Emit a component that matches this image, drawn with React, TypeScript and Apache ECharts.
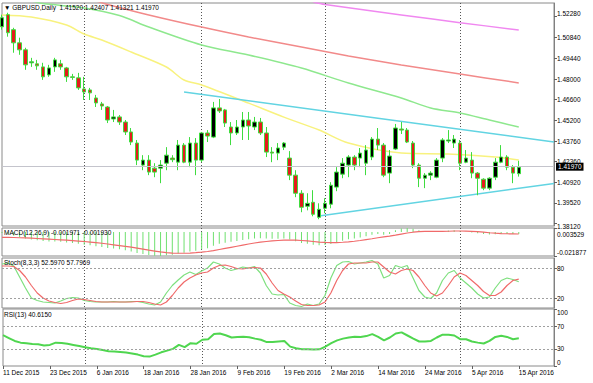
import React, { useEffect, useRef } from 'react';
import * as echarts from 'echarts';

// ---------- data ----------
const dates = [
  '11 Dec 2015','14 Dec 2015','15 Dec 2015','16 Dec 2015','17 Dec 2015','18 Dec 2015','21 Dec 2015','22 Dec 2015','23 Dec 2015','24 Dec 2015',
  '28 Dec 2015','29 Dec 2015','30 Dec 2015','31 Dec 2015',
  '4 Jan 2016','5 Jan 2016','6 Jan 2016','7 Jan 2016','8 Jan 2016','11 Jan 2016','12 Jan 2016','13 Jan 2016','14 Jan 2016','15 Jan 2016',
  '18 Jan 2016','19 Jan 2016','20 Jan 2016','21 Jan 2016','22 Jan 2016','25 Jan 2016','26 Jan 2016','27 Jan 2016','28 Jan 2016','29 Jan 2016',
  '1 Feb 2016','2 Feb 2016','3 Feb 2016','4 Feb 2016','5 Feb 2016','8 Feb 2016','9 Feb 2016','10 Feb 2016','11 Feb 2016','12 Feb 2016',
  '15 Feb 2016','16 Feb 2016','17 Feb 2016','18 Feb 2016','19 Feb 2016','22 Feb 2016','23 Feb 2016','24 Feb 2016','25 Feb 2016','26 Feb 2016','29 Feb 2016',
  '1 Mar 2016','2 Mar 2016','3 Mar 2016','4 Mar 2016','7 Mar 2016','8 Mar 2016','9 Mar 2016','10 Mar 2016','11 Mar 2016','14 Mar 2016',
  '15 Mar 2016','16 Mar 2016','17 Mar 2016','18 Mar 2016','21 Mar 2016','22 Mar 2016','23 Mar 2016','24 Mar 2016','25 Mar 2016',
  '28 Mar 2016','29 Mar 2016','30 Mar 2016','31 Mar 2016',
  '1 Apr 2016','4 Apr 2016','5 Apr 2016','6 Apr 2016','7 Apr 2016','8 Apr 2016','11 Apr 2016','12 Apr 2016','13 Apr 2016','14 Apr 2016','15 Apr 2016',
];
const emptySlots = 6;

const open = [1.5159,1.5242,1.5139,1.5049,1.5001,1.4912,1.4905,1.4884,1.4829,1.4884,
  1.4905,1.4877,1.4816,1.4809,1.4733,1.4726,1.4671,1.4630,1.4609,1.4527,
  1.4541,1.4506,1.4438,1.4362,1.4211,1.4245,1.4190,1.4190,1.4224,1.4259,
  1.4231,1.4348,1.4231,1.4362,1.4245,1.4431,1.4403,1.4603,1.4589,1.4472,
  1.4431,1.4472,1.4520,1.4472,1.4506,1.4431,1.4300,1.4293,1.4334,1.4259,
  1.4142,1.4018,1.3929,1.3956,1.3853,1.3915,1.3943,1.4060,1.4149,1.4211,
  1.4266,1.4259,1.4224,1.4266,1.4389,1.4348,1.4156,1.4321,1.4458,1.4451,
  1.4362,1.4211,1.4121,1.4142,1.4128,1.4259,1.4376,1.4362,1.4362,1.4231,
  1.4245,1.4156,1.4114,1.4053,1.4128,1.4231,1.4266,1.4197,1.41520];
const close = [1.5221,1.5118,1.5049,1.5001,1.4898,1.4919,1.4891,1.4816,1.4877,1.4932,
  1.4884,1.4816,1.4812,1.4740,1.4712,1.4706,1.4637,1.4616,1.4520,1.4541,
  1.4506,1.4438,1.4369,1.4245,1.4245,1.4163,1.4163,1.4211,1.4279,1.4248,
  1.4348,1.4231,1.4362,1.4245,1.4431,1.4410,1.4603,1.4582,1.4499,1.4431,
  1.4472,1.4520,1.4479,1.4506,1.4431,1.4300,1.4293,1.4328,1.4362,1.4142,
  1.4018,1.3922,1.3949,1.3874,1.3908,1.3949,1.4073,1.4163,1.4224,1.4266,
  1.4211,1.4293,1.4314,1.4389,1.4348,1.4142,1.4273,1.4465,1.4451,1.4369,
  1.4211,1.4121,1.4142,1.4156,1.4245,1.4383,1.4383,1.4389,1.4224,1.4259,
  1.4156,1.4121,1.4053,1.4121,1.4231,1.4266,1.4197,1.4156,1.41970];
const low = [1.5139,1.5091,1.4981,1.4967,1.4864,1.4884,1.4864,1.4795,1.4816,1.4850,
  1.4864,1.4781,1.4795,1.4726,1.4657,1.4657,1.4609,1.4589,1.4499,1.4506,
  1.4486,1.4417,1.4348,1.4211,1.4176,1.4142,1.4128,1.4087,1.4176,1.4231,
  1.4176,1.4224,1.4197,1.4142,1.4231,1.4369,1.4396,1.4568,1.4472,1.4348,
  1.4417,1.4383,1.4383,1.4451,1.4417,1.4266,1.4231,1.4245,1.4314,1.4108,
  1.3991,1.3888,1.3901,1.3860,1.3840,1.3881,1.3915,1.4032,1.4121,1.4128,
  1.4176,1.4197,1.4142,1.4245,1.4314,1.4128,1.4087,1.4314,1.4424,1.4362,
  1.4190,1.4060,1.4053,1.4108,1.4121,1.4231,1.4362,1.4328,1.4176,1.4224,
  1.4121,1.4004,1.4039,1.4039,1.4108,1.4224,1.4176,1.4087,1.41321];
const high = [1.5242,1.5255,1.5152,1.5084,1.5015,1.4946,1.4932,1.4912,1.4898,1.4946,
  1.4932,1.4884,1.4836,1.4843,1.4816,1.4740,1.4692,1.4644,1.4616,1.4589,
  1.4554,1.4520,1.4465,1.4383,1.4279,1.4279,1.4224,1.4245,1.4334,1.4279,
  1.4383,1.4362,1.4403,1.4396,1.4438,1.4451,1.4644,1.4664,1.4596,1.4506,
  1.4520,1.4575,1.4575,1.4541,1.4534,1.4472,1.4334,1.4362,1.4369,1.4307,
  1.4176,1.4039,1.4018,1.4039,1.3949,1.3984,1.4094,1.4197,1.4259,1.4279,
  1.4279,1.4328,1.4348,1.4403,1.4465,1.4362,1.4314,1.4493,1.4506,1.4465,
  1.4376,1.4224,1.4156,1.4169,1.4259,1.4396,1.4451,1.4417,1.4383,1.4314,
  1.4300,1.4163,1.4121,1.4128,1.4259,1.4348,1.4279,1.4211,1.42407];

// moving averages: [bar index, price]
const maYellow = [[0,1.5240],[5,1.5226],[11,1.5171],[14,1.5109],[17,1.5068],[22,1.4986],[28,1.4883],[31,1.4794],[34,1.4760],[42,1.4636],[48,1.4540],[54,1.4451],[59,1.4362],[68,1.4294],[76,1.4287],[84,1.4266],[88,1.4246]];
const maGreen = [[5,1.5336],[7,1.5318],[14,1.5288],[20,1.5236],[25,1.5157],[34,1.5034],[42,1.4965],[51,1.4876],[59,1.4773],[68,1.4671],[73,1.4602],[78,1.4568],[83,1.4520],[88,1.4472]];
const maRed = [[16,1.5336],[18,1.5312],[25,1.5240],[34,1.5157],[42,1.5089],[51,1.5020],[59,1.4959],[68,1.4897],[78,1.4835],[88,1.4774]];
const maMagenta = [[53,1.5329],[55,1.5312],[68,1.5240],[78,1.5187],[88,1.5137]];

const upperTrend = [[31,1.4712],[64,1.4532],[94,1.4369]];
const lowerTrend = [[54,1.3862],[94,1.4085]];
const bidPrice = 1.4197;

const priceTicks = [1.5228,1.5084,1.4944,1.4800,1.4660,1.4520,1.4376,1.4236,1.4092,1.3952,1.3812];

const macdMain = [-0.0010,-0.0020,-0.0035,-0.0048,-0.0060,-0.0068,-0.0075,-0.0082,-0.0087,-0.0088,
  -0.0090,-0.0096,-0.0101,-0.0108,-0.0116,-0.0122,-0.0130,-0.0137,-0.0146,-0.0151,
  -0.0158,-0.0167,-0.0177,-0.0192,-0.0200,-0.0210,-0.0217,-0.0219,-0.0212,-0.0207,
  -0.0195,-0.0190,-0.0178,-0.0172,-0.0158,-0.0148,-0.0125,-0.0108,-0.0098,-0.0090,
  -0.0082,-0.0074,-0.0066,-0.0060,-0.0057,-0.0060,-0.0063,-0.0063,-0.0061,-0.0070,
  -0.0085,-0.0100,-0.0108,-0.0117,-0.0121,-0.0120,-0.0110,-0.0095,-0.0080,-0.0067,
  -0.0060,-0.0050,-0.0040,-0.0027,-0.0020,-0.0025,-0.0020,0.0015,0.0030,0.0035,
  0.0028,0.0015,0.0005,-0.0002,0.0000,0.0008,0.0012,0.0014,0.0006,0.0002,
  -0.0005,-0.0012,-0.0020,-0.0024,-0.0022,-0.0019,-0.0019,-0.0020,-0.001971];
const macdSignal = [-0.0049,-0.0050,-0.0051,-0.0053,-0.0055,-0.0057,-0.0060,-0.0063,-0.0066,-0.0069,
  -0.0072,-0.0075,-0.0079,-0.0083,-0.0087,-0.0092,-0.0097,-0.0103,-0.0110,-0.0117,
  -0.0124,-0.0131,-0.0139,-0.0148,-0.0157,-0.0166,-0.0174,-0.0182,-0.0188,-0.0192,
  -0.0194,-0.0194,-0.0192,-0.0189,-0.0184,-0.0178,-0.0170,-0.0160,-0.0150,-0.0140,
  -0.0130,-0.0120,-0.0110,-0.0101,-0.0093,-0.0087,-0.0082,-0.0078,-0.0075,-0.0074,
  -0.0075,-0.0078,-0.0082,-0.0087,-0.0092,-0.0096,-0.0098,-0.0097,-0.0094,-0.0090,
  -0.0085,-0.0078,-0.0070,-0.0062,-0.0053,-0.0046,-0.0039,-0.0030,-0.0020,-0.0010,
  -0.0003,0.0002,0.0004,0.0004,0.0004,0.0005,0.0006,0.0008,0.0008,0.0007,
  0.0005,0.0002,-0.0003,-0.0008,-0.0012,-0.0015,-0.0017,-0.0018,-0.001930];

const stochK = [88,90,84,62,40,20,15,12,11,10, 14,19,21,20,15,13,12,12,12,13,
  12,12,13,13,11,8,6,12,30,45, 56,66,72,67,74,80,92,88,80,75,
  78,82,80,83,70,45,28,26,27,10, 5,3,8,5,8,25,60,85,92,93,
  88,90,92,95,88,60,65,85,81,85, 60,35,22,19,30,55,70,75,60,50,
  40,28,20,22,40,55,60,57,52.597];
const stochD = [84,84,83,75,62,45,30,20,14,11, 9,11,15,18,17,15,13,12,12,12,
  12,12,12,13,13,11,8,6,12,25, 40,52,60,66,70,72,80,85,86,83,
  79,78,80,81,80,68,50,35,28,22, 14,7,5,5,6,12,30,55,75,88,
  90,90,90,92,92,82,72,68,75,78, 75,62,45,30,24,30,45,62,70,65,
  55,45,33,25,25,32,45,55,57.797];

const rsi = [54,49,44,41,40,38.5,38,36,37,41, 40.5,39,37,35,33,31,30,28,26,25.5,
  24.5,23.5,22,20,17,16.5,20,24,27,30, 37,33,40,39,46,47,56,57,54,50,
  51,51.5,50.5,48,46,42,42,43,44,34, 31,29.3,29.5,29,29.3,34,40,45,48,50,
  51.5,51,52.5,56,51,45,50,57,59,53.5, 48,43,43,44,50,55,55,53.5,47,47,
  43,41,39.5,44,51,53,51,47,48.6];

const stochLevels = [20, 80];
const rsiLevels = [30, 70];

// ---------- helpers ----------
const FONT = 'Liberation Sans';
const categories = [...dates, ...Array(emptySlots).fill('')];
const monthStarts = dates
  .map((d, i) => (i > 0 && d.split(' ')[1] !== dates[i - 1].split(' ')[1] ? i : -1))
  .filter((i) => i >= 0);

const GRID_L = 2;
const GRID_R = 39;
const panes = [
  { top: 3, height: 223 },
  { top: 228, height: 28 },
  { top: 258, height: 50 },
  { top: 309, height: 57 },
];

function makeXAxis(idx: number, bottom: boolean) {
  return {
    type: 'category',
    gridIndex: idx,
    data: categories,
    boundaryGap: false,
    axisLine: { show: false },
    axisTick: bottom
      ? { show: true, interval: 7, length: 3, lineStyle: { color: '#606060' } }
      : { show: false },
    axisLabel: bottom
      ? { show: true, interval: 7, align: 'left', margin: 3, fontSize: 6.5, color: '#000', fontFamily: FONT }
      : { show: false },
    splitLine: {
      show: true,
      interval: (i: number) => monthStarts.includes(i),
      lineStyle: { color: '#555', type: [1, 2], width: 1 },
    },
  };
}

function makeYAxis(idx: number, min: number, max: number, ticks: number[], fmt: (v: number) => string, padTop = 0) {
  return {
    type: 'value',
    gridIndex: idx,
    position: 'right',
    min,
    max,
    axisLine: { show: true, lineStyle: { color: '#808080' } },
    axisTick: { show: true, length: 3, customValues: ticks, lineStyle: { color: '#606060' } },
    axisLabel: {
      show: true,
      customValues: ticks,
      formatter: fmt,
      fontSize: 6.5,
      color: '#000',
      fontFamily: FONT,
      margin: 3,
      padding: [padTop, 0, 0, 0],
      verticalAlignMinLabel: 'bottom',
      verticalAlignMaxLabel: 'top',
    },
    splitLine: { show: false },
  };
}

const levelLine = (levels: number[]) => ({
  silent: true,
  symbol: ['none', 'none'],
  label: { show: false },
  lineStyle: { color: '#a0a0a0', type: [2, 2], width: 1 },
  data: levels.map((v) => ({ yAxis: v })),
});

const maSeries = (data: number[][], color: string) => ({
  type: 'line',
  xAxisIndex: 0,
  yAxisIndex: 0,
  data,
  smooth: 0.3,
  showSymbol: false,
  clip: true,
  lineStyle: { color, width: 1.5 },
  silent: true,
  z: 1,
});

const titleStyle = { fontSize: 6.5, color: '#000', fontWeight: 'normal', fontFamily: FONT };

export default function App() {
  const ref = useRef<HTMLDivElement>(null);
  useEffect(() => {
    if (!ref.current) return;
    const chart = echarts.init(ref.current, null, { renderer: 'svg' });
    const option: any = {
      animation: false,
      backgroundColor: '#ffffff',
      title: [
        { text: '▼ GBPUSD,Daily  1.41520 1.42407 1.41321 1.41970', left: 4, top: 4, padding: 0, textStyle: titleStyle },
        { text: 'MACD(12,26,9) -0.001971 -0.001930', left: 4, top: 229, padding: 0, textStyle: titleStyle },
        { text: 'Stoch(8,3,3) 52.5970 57.7969', left: 4, top: 259, padding: 0, textStyle: titleStyle },
        { text: 'RSI(13) 40.6150', left: 4, top: 311, padding: 0, textStyle: titleStyle },
      ],
      grid: panes.map((p) => ({
        left: GRID_L,
        right: GRID_R,
        top: p.top,
        height: p.height,
        show: true,
        borderColor: '#8a8a8a',
        borderWidth: 1,
        backgroundColor: 'transparent',
      })),
      xAxis: [makeXAxis(0, false), makeXAxis(1, false), makeXAxis(2, false), makeXAxis(3, true)],
      yAxis: [
        makeYAxis(0, 1.37935, 1.53219, priceTicks, (v) => v.toFixed(5)),
        makeYAxis(1, -0.021877, 0.003529, [-0.021877, 0.003529], (v) => v.toFixed(6), 3),
        makeYAxis(2, 0, 100, [0, 20, 80, 100], (v) => String(v)),
        makeYAxis(3, 0, 100, [0, 30, 70, 100], (v) => String(v)),
      ],
      series: [
        maSeries(maMagenta, '#f088f0'),
        maSeries(maRed, '#f28a8a'),
        maSeries(maGreen, '#8ee88e'),
        maSeries(maYellow, '#f8f27e'),
        {
          type: 'line',
          xAxisIndex: 0,
          yAxisIndex: 0,
          data: upperTrend.map((p, i) => ({
            value: p,
            symbol: i < 2 ? 'emptyRect' : 'none',
            symbolSize: 4,
          })),
          showSymbol: true,
          lineStyle: { color: '#62d4e2', width: 1.5 },
          itemStyle: { color: '#62d4e2', borderColor: '#62d4e2' },
          silent: true,
          z: 3,
        },
        {
          type: 'line',
          xAxisIndex: 0,
          yAxisIndex: 0,
          data: lowerTrend,
          showSymbol: false,
          lineStyle: { color: '#62d4e2', width: 1.5 },
          silent: true,
          z: 3,
        },
        {
          type: 'candlestick',
          xAxisIndex: 0,
          yAxisIndex: 0,
          barWidth: 4,
          clip: true,
          data: dates.map((_, i) => [open[i], close[i], low[i], high[i]]),
          itemStyle: {
            color: '#000000',
            color0: '#e41c1c',
            borderColor: '#3fdc3f',
            borderColor0: '#3fdc3f',
            borderWidth: 1,
          },
          z: 4,
          markLine: {
            silent: true,
            symbol: ['none', 'none'],
            lineStyle: { color: '#c4c4cc', type: 'solid', width: 1 },
            label: {
              show: true,
              position: 'end',
              distance: 2,
              formatter: bidPrice.toFixed(5),
              backgroundColor: '#000',
              color: '#fff',
              padding: [1, 2, 0, 2],
              fontSize: 6.5,
              fontFamily: FONT,
            },
            data: [{ yAxis: bidPrice }],
          },
        },
        {
          type: 'bar',
          xAxisIndex: 1,
          yAxisIndex: 1,
          data: macdMain,
          barWidth: 1,
          itemStyle: { color: '#6fe06f' },
          silent: true,
        },
        {
          type: 'line',
          xAxisIndex: 1,
          yAxisIndex: 1,
          data: macdSignal,
          showSymbol: false,
          lineStyle: { color: '#f06a6a', width: 1.2 },
          silent: true,
        },
        {
          type: 'line',
          xAxisIndex: 2,
          yAxisIndex: 2,
          data: stochK,
          showSymbol: false,
          lineStyle: { color: '#7ee07e', width: 1.2 },
          silent: true,
          markLine: levelLine(stochLevels),
        },
        {
          type: 'line',
          xAxisIndex: 2,
          yAxisIndex: 2,
          data: stochD,
          showSymbol: false,
          lineStyle: { color: '#f06a6a', width: 1.2 },
          silent: true,
        },
        {
          type: 'line',
          xAxisIndex: 3,
          yAxisIndex: 3,
          data: rsi,
          showSymbol: false,
          lineStyle: { color: '#4fd64f', width: 2 },
          silent: true,
          markLine: levelLine(rsiLevels),
        },
      ],
    };
    chart.setOption(option);
    return () => chart.dispose();
  }, []);
  return (
    <div
      ref={ref}
      style={{ position: 'fixed', left: 0, top: 0, width: 593, height: 383, background: '#fff' }}
    />
  );
}
